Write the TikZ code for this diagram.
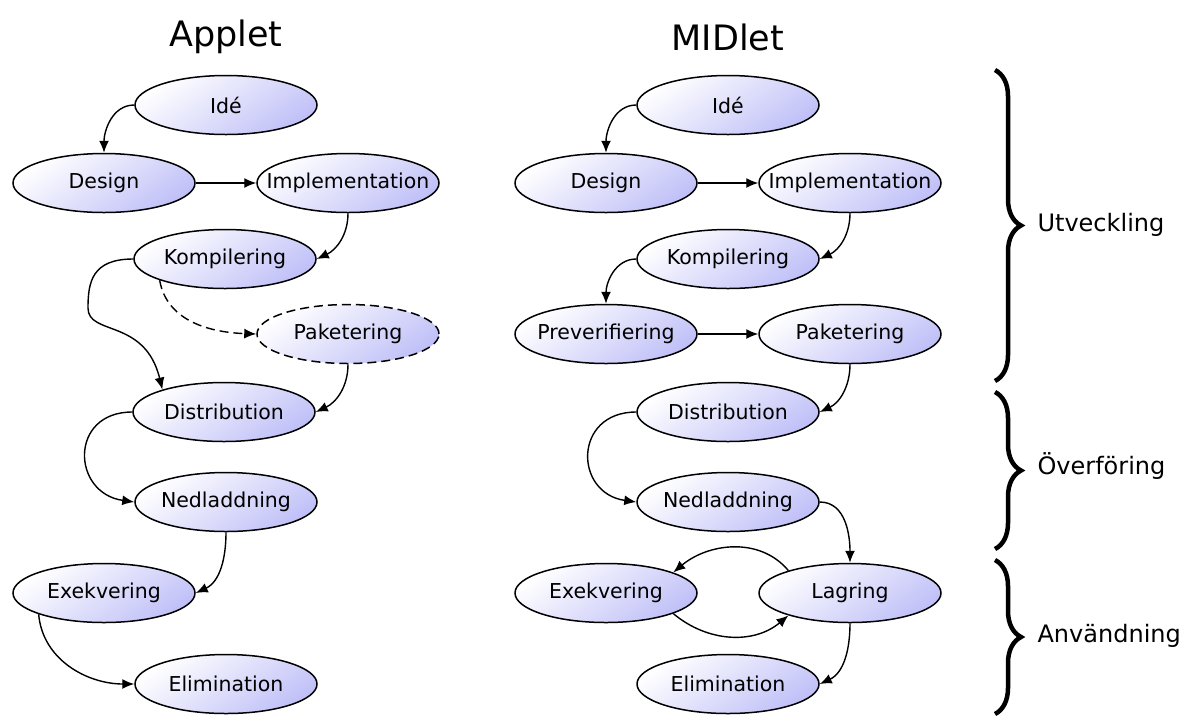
\documentclass[tikz,border=0pt]{standalone}
\usepackage{fontspec}
\setmainfont{DejaVu Sans}
\usetikzlibrary{arrows.meta,decorations.pathreplacing,shapes.geometric}
\definecolor{lav}{RGB}{192,192,248}
\tikzset{
  st/.style={ellipse, draw=black, line width=1.5pt, minimum width=182pt, minimum height=59pt, inner sep=0pt,
    top color=white, bottom color=lav, shading angle=35, font=\fontsize{20.5}{23}\selectfont},
  ar/.style={line width=1.4pt, -{Latex[length=12pt,width=10pt]}},
  ttl/.style={font=\fontsize{35}{40}\selectfont},
  side/.style={font=\fontsize{24}{28}\selectfont, anchor=west},
  br/.style={line width=4.5pt, decorate, decoration={brace, amplitude=26pt}}
}
\newcommand{\zw}[1]{\makebox[0pt]{#1}}
\begin{document}
\begin{tikzpicture}[x=1pt,y=1pt]
\useasboundingbox (0,0) rectangle (1193,-716);
% titles
\node[ttl] (ta) at (226,-37) {Applet};
\node[ttl] (tm) at (728,-37) {MIDlet};
% Applet
\node[st] (i1) at (226,-105) {\zw{Idé}};
\node[st] (d1) at (104,-183) {\zw{Design}};
\node[st] (m1) at (348,-183) {\zw{Implementation}};
\node[st] (k1) at (225,-259) {\zw{Kompilering}};
\node[st, dashed, dash pattern=on 9pt off 5pt] (p1) at (348,-334) {\zw{Paketering}};
\node[st] (s1) at (224,-412) {\zw{Distribution}};
\node[st] (n1) at (226,-502) {\zw{Nedladdning}};
\node[st] (e1) at (104,-593) {\zw{Exekvering}};
\node[st] (l1) at (226,-684) {\zw{Elimination}};
% MIDlet
\node[st] (i2) at (728,-105) {\zw{Idé}};
\node[st] (d2) at (606,-183) {\zw{Design}};
\node[st] (m2) at (850,-183) {\zw{Implementation}};
\node[st] (k2) at (728,-259) {\zw{Kompilering}};
\node[st] (v2) at (606,-334) {\zw{Preverifiering}};
\node[st] (p2) at (850,-334) {\zw{Paketering}};
\node[st] (s2) at (728,-412) {\zw{Distribution}};
\node[st] (n2) at (728,-502) {\zw{Nedladdning}};
\node[st] (e2) at (606,-593) {\zw{Exekvering}};
\node[st] (g2) at (850,-593) {\zw{Lagring}};
\node[st] (l2) at (728,-684) {\zw{Elimination}};
% Applet edges
\draw[ar] (i1.west) to[out=180,in=90] (d1.north);
\draw[ar] (d1.east) -- (m1.west);
\draw[ar] (m1.south) to[out=-90,in=25] (k1.east);
\draw[ar, dashed, dash pattern=on 9pt off 5pt] (k1.198) to[out=-80,in=178] (p1.west);
\draw[ar] (k1.west) .. controls (92,-259) and (88,-282) .. (88,-308)
  .. controls (88,-336) and (145,-318) .. (s1.160);
\draw[ar] (p1.south) to[out=-90,in=25] (s1.east);
\draw[ar] (s1.west) to[out=180,in=172,looseness=1.8] (n1.west);
\draw[ar] (n1.south) to[out=-90,in=25] (e1.east);
\draw[ar] (e1.198) to[out=-85,in=180] (l1.west);
% MIDlet edges
\draw[ar] (i2.west) to[out=180,in=90] (d2.north);
\draw[ar] (d2.east) -- (m2.west);
\draw[ar] (m2.south) to[out=-90,in=25] (k2.east);
\draw[ar] (k2.west) to[out=180,in=90] (v2.north);
\draw[ar] (v2.east) -- (p2.west);
\draw[ar] (p2.south) to[out=-90,in=25] (s2.east);
\draw[ar] (s2.west) to[out=180,in=172,looseness=1.8] (n2.west);
\draw[ar] (n2.east) to[out=0,in=90] (g2.north);
\draw[ar] (g2.160) to[out=130,in=40] (e2.17);
\draw[ar] (e2.-17) to[out=-40,in=-140] (g2.-160);
\draw[ar] (g2.south) to[out=-90,in=25] (l2.east);
% braces
\coordinate (b1t) at (995,-70);
\coordinate (b1b) at (995,-381);
\coordinate (b2t) at (995,-392);
\coordinate (b2b) at (995,-549);
\coordinate (b3t) at (995,-560);
\coordinate (b3b) at (995,-714);
\draw[br] (b1t) -- (b1b);
\draw[br] (b2t) -- (b2b);
\draw[br] (b3t) -- (b3b);
\node[side] (u) at (1034,-225) {Utveckling};
\node[side] (o) at (1034,-466) {Överföring};
\node[side] (a) at (1034,-636) {Användning};
\end{tikzpicture}
\end{document}
